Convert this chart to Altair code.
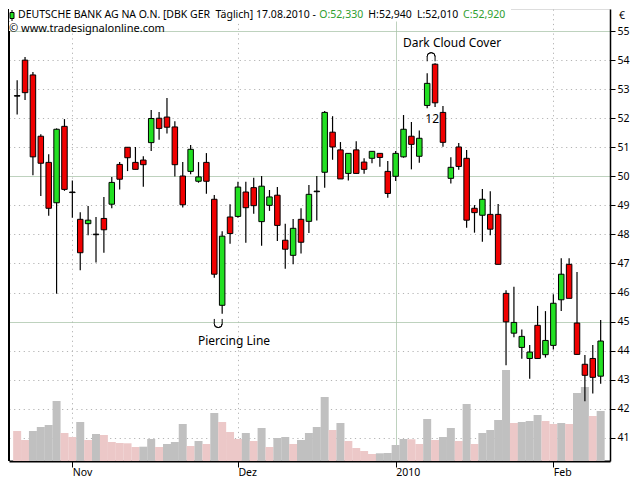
import altair as alt
import pandas as pd

# ---------------- data ----------------
opens = [52.76, 54.00, 53.49, 51.38, 50.48, 49.09, 51.72, 49.44, 48.52, 48.37,
         47.99, 48.55, 49.04, 50.41, 51.00, 50.48, 50.56, 51.16, 52.00, 52.04,
         51.70, 50.01, 50.17, 49.83, 50.48, 49.21, 45.56, 48.60, 48.62, 49.46,
         49.61, 48.44, 49.00, 49.35, 47.80, 47.28, 48.52, 48.45, 49.47, 50.14,
         51.52, 50.91, 50.10, 50.91, 50.49, 50.62, 50.79, 50.17, 50.00, 50.67,
         51.38, 50.69, 52.44, 53.86, 52.20, 49.93, 51.01, 50.62, 48.90, 48.66,
         48.69, 48.69, 45.97, 44.60, 44.11, 43.73, 44.87, 43.86, 44.18, 45.75,
         46.97, 44.95, 43.53, 43.73, 43.12]
highs = [53.31, 54.11, 53.59, 51.45, 50.76, 51.65, 51.97, 49.86, 48.76, 48.98,
         48.60, 49.29, 49.98, 50.49, 51.00, 51.01, 50.69, 52.28, 52.21, 52.70,
         51.90, 50.49, 51.08, 50.49, 50.80, 49.36, 48.11, 49.04, 49.81, 49.81,
         49.95, 50.01, 49.53, 49.63, 48.37, 48.53, 48.90, 49.70, 50.01, 52.25,
         52.07, 51.18, 50.79, 51.21, 50.62, 50.86, 50.79, 50.53, 50.87, 52.11,
         51.87, 51.58, 53.55, 53.89, 52.42, 50.66, 51.15, 50.91, 49.01, 49.56,
         49.49, 49.05, 46.08, 46.20, 44.73, 44.19, 45.54, 45.36, 45.94, 47.18,
         47.18, 46.71, 43.85, 44.19, 45.05]
lows = [52.13, 52.63, 50.04, 49.32, 48.64, 45.96, 49.50, 48.57, 46.77, 47.97,
        47.03, 47.37, 48.90, 49.55, 50.18, 50.24, 49.64, 50.87, 51.26, 51.47,
        49.99, 48.93, 50.07, 49.78, 49.40, 46.51, 45.27, 47.68, 48.57, 47.71,
        48.71, 47.61, 48.81, 47.77, 46.82, 46.97, 47.34, 48.05, 48.48, 49.61,
        50.57, 49.91, 49.86, 50.10, 50.09, 50.45, 50.33, 49.26, 49.84, 50.64,
        50.24, 50.47, 52.34, 52.39, 51.02, 49.75, 50.23, 48.23, 48.06, 47.75,
        47.97, 46.97, 43.50, 44.46, 43.72, 43.03, 43.73, 43.76, 44.04, 45.36,
        45.80, 43.87, 42.26, 42.52, 42.86]
closes = [52.78, 52.88, 50.67, 50.45, 48.90, 51.62, 49.55, 49.46, 47.37, 48.49,
          48.01, 48.16, 49.79, 49.90, 50.64, 50.24, 50.40, 51.99, 51.65, 51.69,
          50.40, 49.02, 50.93, 49.98, 49.83, 46.63, 47.94, 48.03, 49.63, 48.92,
          48.99, 49.66, 49.29, 48.31, 47.49, 48.21, 47.73, 49.38, 49.49, 52.20,
          51.01, 49.91, 50.79, 50.10, 50.24, 50.86, 50.65, 49.41, 50.79, 51.62,
          51.10, 51.31, 53.20, 52.53, 51.17, 50.31, 50.34, 48.49, 48.75, 49.21,
          48.18, 46.97, 44.99, 44.97, 44.49, 43.95, 43.73, 44.35, 45.63, 46.63,
          45.80, 43.87, 43.15, 43.08, 44.33]
# volume, millions of shares
volumes = [3.0, 2.1, 3.0, 3.4, 3.6, 6.0, 2.8, 2.4, 3.9, 2.1,
           2.7, 2.6, 1.9, 1.8, 1.77, 1.4, 1.43, 2.2, 1.4, 1.7,
           1.9, 3.7, 1.5, 2.0, 1.7, 4.8, 3.9, 2.9, 2.2, 2.8,
           2.0, 3.3, 1.4, 2.3, 2.4, 1.7, 2.1, 2.8, 3.4, 6.4,
           3.1, 3.8, 2.0, 1.3, 1.0, 0.7, 0.77, 0.8, 1.6, 2.2,
           2.17, 1.7, 4.2, 2.1, 2.4, 3.3, 2.0, 5.7, 1.7, 2.8,
           3.1, 4.1, 9.1, 3.8, 3.9, 4.0, 4.6, 4.0, 3.7, 3.8,
           3.7, 6.8, 7.4, 4.5, 5.0]

month_idx = [7, 28, 48, 68]
month_lbl = ["Nov", "Dez", "2010", "Feb"]
price_ticks = list(range(41, 56))

# pattern markers: cup below "Piercing Line", cap above "Dark Cloud Cover"
cup_i = [25.5]
cup_p = [44.93]
cap_i = [52.5]
cap_p = [54.12]
leg_len = 0.16
ann_txt_i = [27.5, 55.15, 52.64]
ann_txt_p = [44.33, 54.6, 51.99]
ann_txt_t = ["Piercing Line", "Dark Cloud Cover", "12"]

# ---------------- tables ----------------
n = len(opens)
df = pd.DataFrame({"i": list(range(n)), "open": opens, "high": highs,
                   "low": lows, "close": closes, "vol": volumes})
df["kind"] = ["up" if c > o + 0.05 else ("down" if c < o - 0.05 else "doji")
              for o, c in zip(opens, closes)]
df["vtype"] = ["down"] + ["up" if volumes[k] > volumes[k - 1] else "down"
                          for k in range(1, n)]

cup_df = pd.DataFrame({"i": cup_i, "p": cup_p})
cap_df = pd.DataFrame({"i": cap_i, "p": cap_p})
legs_df = pd.DataFrame({
    "i": [c - 0.5 for c in cup_i] + [c + 0.5 for c in cup_i]
         + [c - 0.5 for c in cap_i] + [c + 0.5 for c in cap_i],
    "p": cup_p * 2 + cap_p * 2,
    "p2": [p + leg_len for p in cup_p] * 2 + [p - leg_len for p in cap_p] * 2,
})
txt_df = pd.DataFrame({"i": ann_txt_i, "p": ann_txt_p, "t": ann_txt_t})
one = pd.DataFrame({"a": [0]})

W, H = 601, 452
XS = alt.Scale(domain=[-0.4, 74.55], nice=False, zero=False)
YS = alt.Scale(domain=[40.2, 55.76], nice=False, zero=False)
GREEN = "#22e022"
RED = "#f00000"
GRID = "#b4b4b4"
SOLID = "#a9c3a9"
FONT = "Noto Sans"
PI = 3.14159265

label_expr = " : ".join(
    f"datum.value == {v} ? '{l}'" for v, l in zip(month_idx, month_lbl)) + " : ''"

x_axis = alt.Axis(
    values=month_idx, labelExpr=label_expr, title=None, grid=True,
    gridColor={"condition": {"test": "datum.value === 48", "value": SOLID}, "value": GRID},
    gridDash={"condition": {"test": "datum.value === 48", "value": [1, 0]}, "value": [1.2, 3.6]},
    gridWidth=1, domainColor="black", domainWidth=2, tickColor="black", tickSize=6,
    labelAlign="left", labelBaseline="top", labelPadding=0, labelFont=FONT,
    labelFontSize=10.5, labelColor="black", labelFlush=False, labelOverlap=False)

y_axis = alt.Axis(
    values=price_ticks, orient="right", title=None, grid=True, format="d",
    gridColor={"condition": {"test": "datum.value % 5 === 0", "value": SOLID}, "value": GRID},
    gridDash={"condition": {"test": "datum.value % 5 === 0", "value": [1, 0]}, "value": [1.2, 3.6]},
    gridWidth=1, domainColor="black", domainWidth=1.5, tickColor="black", tickSize=5,
    labelPadding=2, labelFont=FONT, labelFontSize=10.5, labelColor="black")

X = alt.X("i:Q", scale=XS, axis=x_axis)

vol = alt.Chart(df).mark_bar(width=8, clip=True).encode(
    x=X,
    y=alt.Y("vol:Q", scale=alt.Scale(domain=[0, 45.2]), axis=None),
    color=alt.Color("vtype:N", scale=alt.Scale(domain=["up", "down"],
                    range=["#c0c0c0", "#ecc8c8"]), legend=None),
)

wick = alt.Chart(df).mark_rule(color="black", strokeWidth=1.2).encode(
    x=X, y=alt.Y("low:Q", scale=YS, axis=y_axis), y2="high:Q")

body = alt.Chart(df).mark_bar(width=5.5, stroke="black", strokeWidth=1).encode(
    x=X, y=alt.Y("open:Q", scale=YS, axis=y_axis), y2="close:Q",
    color=alt.Color("kind:N", scale=alt.Scale(domain=["up", "down", "doji"],
                    range=[GREEN, RED, "black"]), legend=None))

cup = alt.Chart(cup_df).mark_arc(radius=4, radius2=4, theta=PI / 2, theta2=3 * PI / 2,
                                 filled=False, stroke="black", strokeWidth=1).encode(
    x=X, y=alt.Y("p:Q", scale=YS, axis=y_axis))
cap = alt.Chart(cap_df).mark_arc(radius=4, radius2=4, theta=3 * PI / 2, theta2=5 * PI / 2,
                                 filled=False, stroke="black", strokeWidth=1).encode(
    x=X, y=alt.Y("p:Q", scale=YS, axis=y_axis))
legs = alt.Chart(legs_df).mark_rule(color="black", strokeWidth=1).encode(
    x=X, y=alt.Y("p:Q", scale=YS, axis=y_axis), y2="p2:Q")

words = alt.Chart(txt_df).mark_text(font=FONT, fontSize=12, color="black",
                                    baseline="middle").encode(
    x=X, y=alt.Y("p:Q", scale=YS, axis=y_axis), text="t:N")

price = alt.layer(wick, body, cup, cap, legs, words)

border = alt.Chart(one).mark_rule(color="black", strokeWidth=2).encode(
    x=alt.value(0), y=alt.value(0), y2=alt.value(H))

box1 = alt.Chart(one).mark_rect(color="white").encode(
    x=alt.value(0), x2=alt.value(502), y=alt.value(0), y2=alt.value(12.5))
box2 = alt.Chart(one).mark_rect(color="white").encode(
    x=alt.value(0), x2=alt.value(160), y=alt.value(12.5), y2=alt.value(22))

icon_w = alt.Chart(one).mark_rule(color="black", strokeWidth=1).encode(
    x=alt.value(3), y=alt.value(1), y2=alt.value(12))
icon_b = alt.Chart(one).mark_rect(color=GREEN, stroke="black", strokeWidth=1).encode(
    x=alt.value(1), x2=alt.value(5), y=alt.value(3.5), y2=alt.value(9.5))


def htext(txt, x, y, color="black", size=10.5):
    return alt.Chart(one).mark_text(text=txt, font=FONT, fontSize=size, color=color,
                                    align="left", baseline="middle").encode(
        x=alt.value(x), y=alt.value(y))


hdr = [
    htext("DEUTSCHE BANK AG NA O.N. [DBK GER\u00a0 T\u00e4glich] 17.08.2010 -", 9, 6),
    htext("O:52,330", 310.3, 6, "#2e9e2e"),
    htext("H:52,940", 359.3, 6),
    htext("L:52,010", 408, 6),
    htext("C:52,920", 454, 6, "#2e9e2e"),
    htext("\u00a9 www.tradesignalonline.com", 0, 19.5, size=11),
    htext("\u20ac", 610, 7),
]

chart = alt.layer(vol, price).resolve_scale(y="independent", color="independent")
chart = alt.layer(chart, border, box1, box2, icon_w, icon_b, *hdr).properties(
    width=W, height=H, padding=0
).configure_view(stroke=None, fill="#f4f4f4").configure(font=FONT)

chart.save("out.html", embed_options={"renderer": "svg", "actions": False})
